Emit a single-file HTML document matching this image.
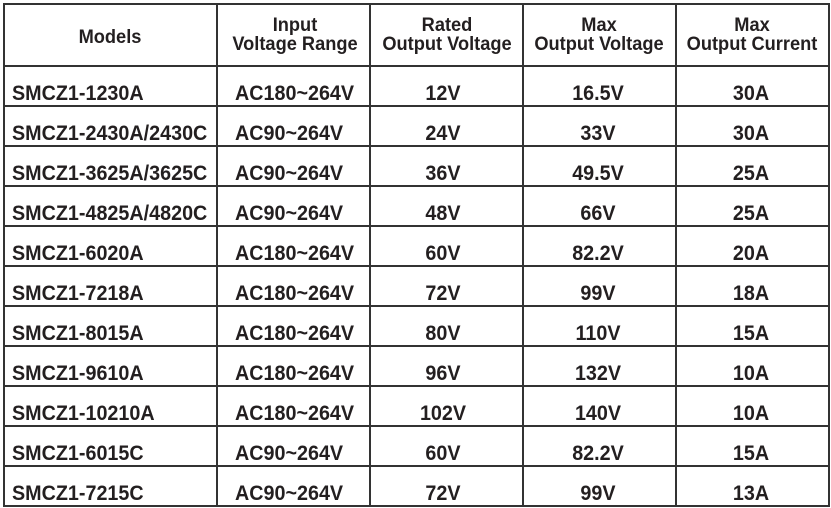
<!DOCTYPE html>
<html><head><meta charset="utf-8"><style>
body{margin:0;width:831px;height:508px;background:#fff;position:relative;overflow:hidden;font-family:"Liberation Sans",Arial,sans-serif;font-weight:bold;color:#231f20}
.h{position:absolute;background:#333;height:2px}
.v{position:absolute;background:#333;width:2px;top:3px;height:504px}
.t{position:absolute;font-size:21px;white-space:nowrap;line-height:22px;transform-origin:0 50%;transform:scaleX(.94)}
.c{transform:translateX(-50%) scaleX(.94);transform-origin:50% 50%;text-align:center}
.hd{position:absolute;font-size:19px;line-height:19px;text-align:center;transform:translateX(-50%) scaleX(.96);white-space:nowrap}
</style></head><body>
<div class="h" style="left:3px;width:827px;top:3px"></div>
<div class="h" style="left:3px;width:827px;top:65px"></div>
<div class="v" style="left:3px"></div><div class="v" style="left:216px"></div><div class="v" style="left:369px"></div><div class="v" style="left:522px"></div><div class="v" style="left:675px"></div><div class="v" style="left:828px"></div>
<div class="hd" style="left:110px;top:28px">Models</div>
<div class="hd" style="left:295px;top:16px">Input<br>Voltage Range</div>
<div class="hd" style="left:447px;top:16px">Rated<br>Output Voltage</div>
<div class="hd" style="left:599px;top:16px">Max<br>Output Voltage</div>
<div class="hd" style="left:752px;top:16px">Max<br>Output Current</div>
<div id="rows"></div>
<script>
var d=[["SMCZ1-1230A","AC180~264V","12V","16.5V","30A"],["SMCZ1-2430A/2430C","AC90~264V","24V","33V","30A"],["SMCZ1-3625A/3625C","AC90~264V","36V","49.5V","25A"],["SMCZ1-4825A/4820C","AC90~264V","48V","66V","25A"],["SMCZ1-6020A","AC180~264V","60V","82.2V","20A"],["SMCZ1-7218A","AC180~264V","72V","99V","18A"],["SMCZ1-8015A","AC180~264V","80V","110V","15A"],["SMCZ1-9610A","AC180~264V","96V","132V","10A"],["SMCZ1-10210A","AC180~264V","102V","140V","10A"],["SMCZ1-6015C","AC90~264V","60V","82.2V","15A"],["SMCZ1-7215C","AC90~264V","72V","99V","13A"]];
var h="";
for(var i=0;i<11;i++){var y=66+i*40;
h+='<div class="h" style="left:3px;width:827px;top:'+(y+39)+'px"></div>';
var ty=y+17;
h+='<div class="t" style="left:12px;top:'+ty+'px">'+d[i][0]+'</div>';
h+='<div class="t" style="left:235px;top:'+ty+'px">'+d[i][1]+'</div>';
h+='<div class="t c" style="left:443px;top:'+ty+'px">'+d[i][2]+'</div>';
h+='<div class="t c" style="left:598px;top:'+ty+'px">'+d[i][3]+'</div>';
h+='<div class="t c" style="left:751px;top:'+ty+'px">'+d[i][4]+'</div>';}
document.getElementById("rows").innerHTML=h;
</script>
</body></html>
